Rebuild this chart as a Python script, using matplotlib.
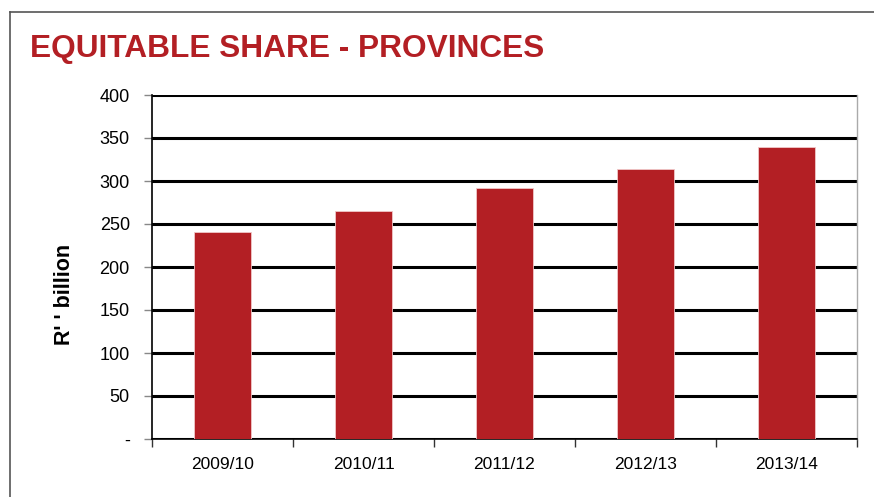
import matplotlib.pyplot as plt
from matplotlib.lines import Line2D

years = ["2009/10", "2010/11", "2011/12", "2012/13", "2013/14"]
equitable_share = [240.3, 265.5, 292.2, 313.6, 339.5]
y_ticks = [0, 50, 100, 150, 200, 250, 300, 350, 400]
y_tick_labels = ["-", "50", "100", "150", "200", "250", "300", "350", "400"]

RED = "#B31F24"
W, H = 874, 497

plt.rcParams["font.family"] = ["Liberation Sans", "DejaVu Sans"]

fig = plt.figure(figsize=(W / 100, H / 100), dpi=100)

# slide frame (top and left edges visible)
fig.add_artist(Line2D([9.5 / W, 9.5 / W], [0, 1 - 11.5 / H], color="#555555", lw=1.2))
fig.add_artist(Line2D([9.5 / W, 1], [1 - 11.5 / H, 1 - 11.5 / H], color="#555555", lw=1.2))

fig.text(30 / W, 1 - 57 / H, "EQUITABLE SHARE - PROVINCES", color=RED,
         fontsize=22.8, fontweight="bold", va="baseline", ha="left")

ax = fig.add_axes([152 / W, 1 - 439 / H, (857 - 152) / W, (439 - 95) / H])

x = range(len(years))
ax.bar(x, equitable_share, width=0.4, color=RED, edgecolor="#f0c8c8",
       linewidth=0.6, zorder=3)

ax.set_xlim(-0.5, len(years) - 0.5)
ax.set_ylim(0, 400)
ax.set_yticks(y_ticks)
ax.set_yticklabels(y_tick_labels)
ax.set_xticks(list(x))
ax.set_xticklabels(years)
ax.set_xticks([i - 0.5 for i in range(len(years) + 1)], minor=True)

ax.yaxis.grid(True, color="black", linewidth=2.2, zorder=1)
ax.set_axisbelow(True)

ax.tick_params(axis="y", direction="out", length=6, width=1, color="#888888",
               labelsize=13, pad=10)
ax.tick_params(axis="x", which="major", length=0, labelsize=12.5, pad=13)
ax.tick_params(axis="x", which="minor", direction="out", length=6, width=1,
               color="#333333")

for side in ["left", "bottom"]:
    ax.spines[side].set_color("black")
    ax.spines[side].set_linewidth(1.2)
ax.spines["top"].set_visible(False)
ax.spines["right"].set_color("#aaaaaa")
ax.spines["right"].set_linewidth(1)

fig.text(65 / W, 1 - 294 / H, "R' ' billion", rotation=90, fontsize=15.5,
         fontweight="bold", ha="center", va="center")

fig.savefig("out.png", dpi=100)
